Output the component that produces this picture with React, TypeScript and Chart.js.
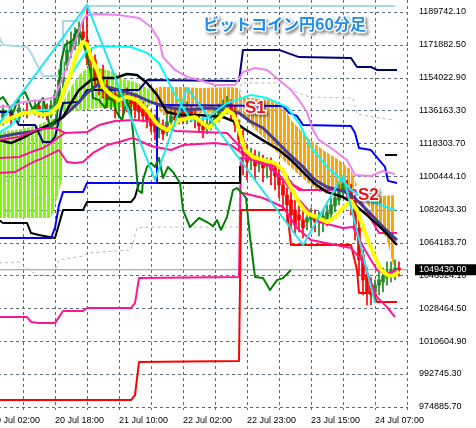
import React, { useEffect, useRef } from 'react';
import { Chart, registerables } from 'chart.js';
Chart.register(...registerables);

// x = hourly bar index (0 = 20 Jul 02:00), y = price (JPY)
const timeLabels: Record<number, string> = {
  0: '20 Jul 02:00', 16: '20 Jul 18:00', 32: '21 Jul 10:00', 48: '22 Jul 02:00',
  64: '22 Jul 23:00', 80: '23 Jul 15:00', 96: '24 Jul 07:00',
};
const gridBars = [0, 8, 16, 24, 32, 40, 48, 56, 64, 72, 80, 88, 96, 104];
const priceTicks = [1189742.1, 1171882.5, 1154022.9, 1136163.3, 1118303.7, 1100444.1, 1082043.3,
  1064183.7, 1046324.1, 1028464.5, 1010604.9, 992745.3, 974885.7];
const bidPrice = 1049430;
const titleText = 'ビットコイン円60分足';
const X_MIN = 0, X_MAX = 104.25, Y_MIN = 973083, Y_MAX = 1196275;

type P = [number, number | null];

const lightBlue: P[] = [[2,1176100],[3,1171800],[9,1170700],[10,1167400],[13,1154900],[18,1154900],[18,1184800],[22,1184800],[24,1193000],[101,1193000]];
const cyanZigzag: P[] = [[2,1128800],[24,1193600],[41,1098300],[49,1148400],[78,1062900],[88,1101000],[96,1031300]];
const cyanBand: P[] = [[2,1123900],[5,1128200],[7,1133100],[10,1136400],[15,1136400],[17,1138000],[20,1155400],[24,1169100],[27,1171200],[35,1170700],[39,1167400],[42,1162000],[46,1144600],[50,1130900],[54,1132000],[59,1140200],[65,1144600],[69,1142900],[74,1138000],[77,1129300],[80,1116200],[84,1105400],[88,1097800],[90,1092800],[94,1087400],[101,1081900]];
const violet: P[] = [[2,1138000],[5,1138600],[8,1140700],[13,1141800],[16,1143500],[19,1159800],[21,1173400],[23,1185400],[24,1188100],[27,1188700],[32,1188100],[37,1186500],[40,1181600],[42,1174500],[43,1165200],[46,1158200],[49,1154400],[52,1152700],[56,1150000],[61,1150000],[63,1157100],[66,1159300],[69,1158200],[72,1152700],[75,1147300],[77,1141800],[79,1135300],[80.5,1125500],[82,1120100],[85,1115700],[89,1109200],[91,1101000],[95,1100500],[98,1103200],[101,1101500]];
const navy: P[] = [[2,1135300],[5,1135300],[7,1128200],[11,1128200],[13,1119000],[15,1119000],[16,1121700],[18,1140200],[22,1140700],[24,1147300],[37,1147300],[39,1152700],[62,1152200],[63,1169100],[72,1169100],[77,1165200],[90,1164700],[91.5,1159800],[95,1159800],[96.5,1158200],[101.5,1158200]];
const blueStep: P[] = [[2,1066700],[15,1066700],[16,1072200],[17,1084700],[18,1091700],[23,1091700],[24,1096700],[41.5,1096700],[41.5,1139100],[73,1138600],[74.5,1134800],[76.5,1133100],[78,1128200],[90,1127700],[91,1123900],[92,1115700],[95,1114600],[97,1109200],[98.5,1105400],[99.25,1097800],[101.5,1096700]];
const blackStep: P[] = [[2,1076500],[3,1074900],[9,1074900],[10,1069400],[12,1068300],[16,1066700],[18,1081900],[23,1081900],[24,1086300],[35,1086300],[36,1089000],[37,1096700],[62,1096700],[62.25,1105900],[80,null],[98.5,1111900],[101.5,1111900]];
const redStep: P[] = [[2,978500],[35,978500],[36,981200],[37,999200],[62,999700],[62.5,1081900],[74,1081900],[75,1062900],[90,1062900],[91.5,1049300],[92,1036800],[95.5,1036800],[96.5,1031900],[101.5,1031900]];
const pinkStep: P[] = [[2,1023700],[9,1023700],[10,1021000],[12,1020400],[16,1020400],[18,1027000],[23,1027000],[24,1028600],[35,1028600],[36,1031300],[37,1044900],[62,1045500],[62.5,1110300],[67,1109200],[72,1106500],[75,1096700],[77,1092800],[91,1092800],[93,1084700],[97,1069400],[101.5,1069400]];
const pinkUpper: P[] = [[2,1120100],[7,1121700],[12,1126100],[16,1126600],[18.5,1123900],[24,1124400],[27,1128200],[31,1130400],[36,1130900],[41,1129900],[46,1125000],[59,1123900],[63,1114600],[68,1109200],[73,1098300],[77,1087400],[82,1075400],[88,1072200],[90.5,1072700],[93.5,1060200],[96.5,1049300],[99,1047100],[101.5,1049300]];
const pinkMid: P[] = [[2,1110300],[7,1110800],[10,1113500],[13,1115700],[15,1118400],[17,1121700],[18.5,1123900]];
const pinkLower: P[] = [[2,1102100],[6,1102600],[10,1107500],[13,1110300],[17,1114600],[19,1108100],[21,1107500],[23,1108100],[25.5,1113000],[29,1117300],[32,1119000],[35.5,1121200],[40,1116800],[45,1114600],[48,1117300],[56,1118400],[60,1117300],[64,1110800],[67,1107500],[72,1105400],[75.5,1095600],[78,1092800]];
const pinkLowest: P[] = [[63,1091200],[68,1088500],[73,1083600],[76.5,1072200],[80,1065600],[85,1063500],[90,1061300],[93,1053700],[96.5,1034600],[99,1029100],[101,1023700]];
const blackMA: P[] = [[2,1120100],[5,1118400],[8,1121200],[11,1124900],[15,1128800],[18,1132600],[20,1140200],[22,1147300],[25,1152700],[28,1153800],[31,1153800],[34,1156000],[36.5,1155400],[39,1151100],[41.5,1144600],[44,1135300],[47,1133700],[52,1133700],[58,1132600],[61,1129900],[63,1126600],[67,1121200],[72,1114600],[75,1109200],[78,1102600],[81,1096100],[84,1091700],[88,1089000],[91,1084700],[94,1079200],[98,1071100],[101.5,1062900]];
const slateMA: P[] = [[2,1121700],[6,1123300],[11,1124900],[15,1127700],[18,1132600],[22,1140700],[24,1145600],[26.5,1150000],[29,1148900],[32,1147300],[36,1144600],[40,1140700],[43,1138600],[48,1136400],[55,1137500],[62,1134800],[65,1129900],[68,1126600],[71,1120100],[74,1113500],[78,1105400],[81,1098300],[84,1094500],[88,1092300],[91,1088500],[94,1081900],[98,1072700],[101.5,1065600]];
const yellowMA: P[] = [[2,1128800],[5,1132000],[8,1134800],[11,1135300],[13,1133700],[15,1134800],[17,1139100],[18,1145600],[20,1156500],[21.5,1167400],[23,1173400],[24,1172300],[25,1165200],[26.5,1158200],[28,1148900],[30,1144600],[32,1141800],[34,1143500],[36.5,1141800],[39,1136400],[41.5,1128800],[44,1125500],[47,1130900],[51,1132600],[54.5,1126600],[57,1132000],[59,1136400],[60.5,1134200],[61.5,1129300],[62.5,1121700],[63.5,1114600],[65.5,1110800],[68,1109200],[71,1107500],[73,1103700],[74,1098300],[75.5,1092300],[77,1085800],[79,1080300],[81.5,1078100],[84,1075400],[86,1078100],[88,1083000],[90,1086900],[91.5,1081900],[93,1072700],[94.5,1064000],[96,1056400],[97.5,1049300],[99.5,1046000],[101,1046600],[102,1048700]];
const chikou: P[] = [[2,1141800],[3,1143500],[5.5,1134800],[7,1143500],[8.5,1146200],[10.5,1136400],[13,1142900],[14.75,1127100],[16.5,1132600],[17.5,1162500],[18.5,1171800],[20.5,1174500],[21.5,1180000],[22.5,1176100],[24,1166300],[25,1155400],[25.5,1142900],[27,1141800],[28.5,1137500],[29.25,1143500],[30.5,1141800],[31.5,1134800],[32.75,1130900],[34,1141800],[35,1134800],[35.5,1123900],[36,1111900],[36.75,1092800],[37.75,1091200],[38,1098300],[39,1105400],[40,1107500],[41,1105400],[42,1110300],[43,1099400],[44.25,1105400],[45.5,1102600],[47.25,1096700],[48,1081900],[49.75,1072700],[52,1077600],[54,1075400],[55.5,1073200],[56.5,1076500],[57.5,1071100],[59,1078100],[60.5,1092800],[61.5,1093900],[63,1090700],[63.75,1088500],[64.75,1067300],[66,1045500],[68,1044900],[69.75,1038400],[71.5,1043800],[73,1044900],[75,1049300]];
const grayUpper: P[] = [[2,1053100],[7,1053600],[9.5,1049300],[11.5,1046600],[15.5,1046000],[17,1054700],[23,1056900],[24,1058500],[35,1060200],[36.5,1072200],[42,1072700],[62,1072700],[62.5,1151100],[73,1151100],[75,1147300],[79.5,1143500],[90.5,1142900],[91.5,1134200],[95.5,1132600],[101,1130900]];
const grayLeft: P[] = [[2,1098300],[5.5,1097700],[9,1093900],[12,1088500],[17,1087400]];
const limeTop: P[] = [[2,1124400],[6,1125500],[10,1127100],[13,1129300],[16,1132000],[17.5,1138600],[20,1148900],[22,1155400],[24,1159300],[27,1159300],[29,1158200],[31,1157100],[32,1153800],[36,1151600],[40,1147300],[41,1142900]];
const limeBottom: P[] = [[2,1077600],[15,1077600],[15.5,1080300],[16.5,1088500],[17.75,1098300],[18,1135300],[23,1136400],[27,1137500],[32,1138000],[37,1138000],[40,1138600],[41,1142900]];
const orangeTop: P[] = [[40,1147300],[42,1148900],[48,1148900],[52,1148400],[60,1148900],[62,1148400],[62.5,1143500],[70,1141800],[73,1139100],[75,1130900],[79,1121700],[83,1114600],[87,1109200],[90,1103700],[91.5,1095600]];
const orangeBottom: P[] = [[40,1141800],[43,1133700],[52,1134800],[62,1134800],[63,1133100],[66,1125500],[69,1120100],[73,1109200],[77,1101000],[82,1091700],[90,1092800],[91.5,1095600]];
const orange2Top: P[] = [[94,1089000],[101,1090100]];
const orange2Bottom: P[] = [[94,1085800],[97,1073800],[99,1065600],[100.5,1052000],[101,1052000]];

// candles
const candleBar = [3,5,7,9,11,12,13,14,15,16,17,18,19,20,21,22,23,24,25,26,27,28,29,30,31,32,33,34,35,36,37,38,39,40,41,42,43,44,45,46,47,48,49,50,51,52,53,54,55,56,57,58,59,60,61,62,63,64,65,66,67,68,69,70,71,72,73,74,75,76,77,78,79,80,81,82,83,84,85,86,87,88,89,90,91,92,93,94,95,96,97,98,99,100,101,102];
const candleOpen = [1132100,1135300,1132100,1136400,1135300,1138600,1135300,1136400,1133700,1137500,1144000,1151700,1160900,1168000,1172300,1176700,1178900,1174500,1164700,1163600,1153800,1150000,1146200,1141900,1145100,1142900,1144000,1144600,1142900,1141900,1139100,1137500,1135300,1132100,1129900,1125500,1126600,1124400,1129900,1133100,1132100,1135300,1132100,1136400,1133700,1131000,1127700,1126600,1128800,1131000,1133100,1136400,1138600,1139700,1135300,1128200,1120100,1113600,1109200,1110300,1107000,1109200,1105900,1107000,1104800,1101000,1095600,1090100,1087400,1082000,1079300,1076500,1075400,1076500,1077600,1075400,1076500,1076500,1079800,1084200,1087400,1091800,1095000,1092900,1087400,1072200,1057500,1046600,1041100,1037300,1041100,1042800,1045000,1047100,1048200,1050400];
const candleHigh = [1139100,1137500,1141900,1140200,1141900,1141300,1140800,1139700,1141900,1147300,1158200,1166400,1174500,1178900,1181100,1184300,1185400,1191900,1169100,1166400,1158200,1160900,1152700,1148400,1147300,1147300,1146200,1148400,1146200,1144600,1141900,1140800,1138600,1136400,1133700,1132100,1131000,1135300,1137500,1136400,1139100,1139700,1140800,1138600,1136400,1134200,1132100,1132100,1134200,1137500,1139700,1141900,1144000,1141900,1138600,1131000,1125500,1117400,1115700,1114600,1113600,1111900,1110300,1110300,1108100,1104800,1099400,1094000,1091800,1087400,1084700,1082000,1080900,1083100,1082000,1080900,1082000,1084700,1088500,1092900,1096100,1099400,1098300,1096100,1090100,1076500,1060200,1050400,1045000,1043900,1049300,1050400,1053700,1053700,1054800,1053700];
const candleLow = [1128200,1127700,1129900,1132100,1133700,1132600,1132100,1131000,1132100,1135300,1141900,1148400,1158200,1164700,1169100,1171800,1171800,1160900,1155500,1150000,1144600,1142900,1137500,1136400,1132100,1132100,1133700,1135300,1133700,1132100,1131000,1129900,1126600,1124400,1120100,1121200,1120100,1122300,1126600,1127700,1128800,1128800,1128800,1129900,1126600,1124400,1121200,1123400,1125500,1127700,1129900,1132100,1134200,1131000,1124400,1114600,1101000,1098300,1103800,1098300,1102700,1097200,1099400,1095600,1092900,1088500,1082000,1075400,1072200,1068400,1070000,1066700,1071100,1072200,1070000,1067800,1070000,1073300,1077600,1080900,1084700,1088500,1087400,1079300,1065600,1046600,1035700,1030300,1030300,1033000,1035700,1037300,1041100,1042800,1043900,1046000];
const candleClose = [1136400,1131000,1137500,1134200,1138600,1135300,1136400,1133100,1139100,1144600,1152700,1162500,1169100,1173400,1177800,1180000,1175600,1164700,1162500,1152700,1150000,1146200,1141900,1146200,1141900,1144600,1140800,1141900,1139700,1136400,1135300,1133100,1131000,1127700,1124400,1128200,1123400,1129900,1133100,1131000,1135300,1132100,1136400,1133100,1131000,1127700,1125500,1128800,1131000,1133700,1136400,1138600,1139700,1135300,1128200,1120100,1111900,1108100,1111400,1105900,1109200,1104800,1107000,1103800,1100500,1095600,1090100,1084700,1079300,1073800,1076500,1072200,1077600,1079300,1075400,1077600,1078700,1080900,1084700,1088500,1092900,1096100,1091800,1084700,1071100,1054800,1043900,1037300,1035700,1041100,1043900,1046000,1048200,1049300,1050400,1049430];

const toXY = (pts: P[]) => pts.map(([x, y]) => ({ x, y }));
const NONE = 'rgba(0,0,0,0)';
const GRID = '#5f6a78';

function line(label: string, pts: P[], color: string, width: number, order: number, extra: any = {}) {
  return {
    type: 'line', label, data: toXY(pts), borderColor: color, borderWidth: width,
    pointRadius: 0, tension: 0, fill: false, order, borderJoinStyle: 'round', spanGaps: false, ...extra,
  };
}

// dashed grid built from 3px dash rectangles at each axis tick, under the series
const gridPlugin = {
  id: 'rectGrid',
  beforeDatasetsDraw(chart: any) {
    const { ctx, chartArea, scales } = chart;
    const { left, right, top, bottom } = chartArea;
    ctx.save();
    ctx.globalAlpha = 1;
    ctx.globalCompositeOperation = 'source-over';
    ctx.fillStyle = GRID;
    for (const v of gridBars) {
      const px = Math.round(scales.x.getPixelForValue(v));
      if (px < left || px > right) continue;
      for (let y = top; y < bottom; y += 6) ctx.fillRect(px, y, 1, Math.min(3, bottom - y));
    }
    for (const v of priceTicks) {
      const py = Math.round(scales.y.getPixelForValue(v));
      for (let x = left + 1; x < right; x += 6) ctx.fillRect(x, py, Math.min(3, right - x), 1);
    }
    ctx.restore();
  },
};

const overlayPlugin = {
  id: 'overlay',
  afterDraw(chart: any) {
    const { ctx, chartArea, scales } = chart;
    const xs = scales.x, ys = scales.y;
    ctx.save();
    const by = ys.getPixelForValue(bidPrice);
    ctx.fillStyle = '#000';
    ctx.fillRect(chartArea.right + 7, by - 5.5, chart.width - chartArea.right - 7, 11);
    ctx.fillStyle = '#fff';
    ctx.font = '9px "Liberation Sans"';
    ctx.textAlign = 'left';
    ctx.textBaseline = 'middle';
    ctx.fillText(bidPrice.toFixed(2), chartArea.right + 11, by);

    const fancy = (text: string, x: number, y: number, font: string, color: string) => {
      ctx.font = font;
      ctx.textAlign = 'left';
      ctx.textBaseline = 'middle';
      ctx.shadowColor = 'rgba(0,0,0,0.45)';
      ctx.shadowBlur = 3;
      ctx.shadowOffsetX = 2;
      ctx.shadowOffsetY = 2;
      ctx.lineJoin = 'round';
      ctx.strokeStyle = '#fff';
      ctx.lineWidth = 3;
      ctx.strokeText(text, x, y);
      ctx.shadowColor = 'rgba(0,0,0,0)';
      ctx.fillStyle = color;
      ctx.fillText(text, x, y);
    };
    fancy(titleText, chartArea.left + 212, 24, 'bold 16px "Noto Sans CJK JP"', '#1e8cf0');
    fancy('S1', xs.getPixelForValue(63.5), ys.getPixelForValue(1137500), 'bold 17px "Liberation Sans"', '#e8121c');
    fancy('S2', xs.getPixelForValue(91.75), ys.getPixelForValue(1090100), 'bold 17px "Liberation Sans"', '#e8121c');
    ctx.restore();
  },
};

export default function App() {
  const ref = useRef<HTMLCanvasElement>(null);
  useEffect(() => {
    document.body.style.margin = '0';
    document.body.style.overflow = 'hidden';
    const canvas = ref.current!;
    const ctx = canvas.getContext('2d')!;
    const stripe = (color: string) => {
      const pc = document.createElement('canvas');
      pc.width = 4; pc.height = 1;
      const p = pc.getContext('2d')!;
      p.fillStyle = color;
      p.fillRect(0, 0, 3, 1);
      return ctx.createPattern(pc, 'repeat');
    };
    const lime = stripe('#7CFC00');
    const orange = stripe('#FFA500');

    const bodyColors = candleOpen.map((o, k) => (candleClose[k] >= o ? '#1f8a1f' : '#ff0000'));
    const datasets: any[] = [
      line('limeTop', limeTop, NONE, 1, 40),
      line('limeBottom', limeBottom, NONE, 1, 40, { fill: '-1', backgroundColor: lime }),
      line('orangeTop', orangeTop, NONE, 1, 40),
      line('orangeBottom', orangeBottom, NONE, 1, 40, { fill: '-1', backgroundColor: orange }),
      line('orange2Top', orange2Top, NONE, 1, 40),
      line('orange2Bottom', orange2Bottom, NONE, 1, 40, { fill: '-1', backgroundColor: orange }),
      line('bid', [[X_MIN, bidPrice], [X_MAX, bidPrice]], '#8a96a3', 1, 35),
      {
        type: 'bar', label: 'wick', order: 21, grouped: false, barThickness: 1,
        data: candleBar.map((b, k) => ({ x: b, y: [candleLow[k], candleHigh[k]] })),
        backgroundColor: bodyColors,
      },
      {
        type: 'bar', label: 'body', order: 20, grouped: false, barThickness: 3,
        data: candleBar.map((b, k) => ({ x: b, y: [Math.min(candleOpen[k], candleClose[k]), Math.max(candleOpen[k], candleClose[k])] })),
        backgroundColor: bodyColors,
      },
      line('grayUpper', grayUpper, '#b8b8b8', 1, 15, { borderDash: [3, 3] }),
      line('grayLeft', grayLeft, '#b8b8b8', 1, 15, { borderDash: [3, 3] }),
      line('lightBlue', lightBlue, '#ADD8E6', 2, 14),
      line('redStep', redStep, '#FF0000', 2, 13),
      line('pinkStep', pinkStep, '#FF1493', 2, 13),
      line('blackStep', blackStep, '#000000', 2, 12),
      line('blueStep', blueStep, '#0000FF', 2, 11),
      line('navy', navy, '#000080', 2, 10),
      line('slate', slateMA, '#483D8B', 3, 9),
      line('blackMA', blackMA, '#000000', 2.5, 8),
      line('chikou', chikou, '#008000', 2, 7),
      line('pinkUpper', pinkUpper, '#FF1493', 2, 6),
      line('pinkMid', pinkMid, '#FF1493', 2, 6),
      line('pinkLower', pinkLower, '#FF1493', 2, 6),
      line('pinkLowest', pinkLowest, '#FF1493', 2, 6),
      line('violet', violet, '#EE82EE', 2, 5),
      line('cyanBand', cyanBand, '#00FFFF', 2, 4),
      line('yellow', yellowMA, '#FFFF00', 4, 3),
      line('cyanZigzag', cyanZigzag, '#1fe6f0', 2, 2),
    ];

    const tickFont = { family: 'Liberation Sans', size: 9 };
    const chart = new Chart(ctx, {
      type: 'line',
      data: { datasets },
      options: {
        animation: false,
        responsive: false,
        devicePixelRatio: 1,
        events: [],
        layout: { padding: 0 },
        plugins: { legend: { display: false }, tooltip: { enabled: false } },
        scales: {
          x: {
            type: 'linear', min: X_MIN, max: X_MAX, offset: false,
            afterBuildTicks: (s: any) => { s.ticks = gridBars.map((v) => ({ value: v })); },
            afterFit: (s: any) => { s.height = 18; s.paddingLeft = 0; s.paddingRight = 0; },
            grid: { display: false, drawTicks: false, offset: false },
            border: { display: false },
            ticks: {
              align: 'start', padding: 5, maxRotation: 0, minRotation: 0, autoSkip: false,
              color: '#000', font: tickFont,
              callback: (v: any) => timeLabels[v as number] ?? '',
            },
          },
          y: {
            type: 'linear', position: 'right', min: Y_MIN, max: Y_MAX, beginAtZero: false,
            afterBuildTicks: (s: any) => { s.ticks = priceTicks.map((v) => ({ value: v })); },
            afterFit: (s: any) => { s.width = 68; s.paddingTop = 0; s.paddingBottom = 0; },
            grid: { display: false, drawTicks: false },
            border: { display: false },
            ticks: {
              padding: 11, autoSkip: false, color: '#000', font: tickFont,
              callback: (v: any) => Number(v).toFixed(2),
            },
          },
        },
      } as any,
      plugins: [gridPlugin, overlayPlugin],
    });
    return () => chart.destroy();
  }, []);
  return (
    <div style={{ position: 'absolute', left: -9, top: 0, width: 485, height: 428 }}>
      <canvas ref={ref} width={485} height={428} style={{ display: 'block', width: 485, height: 428 }} />
    </div>
  );
}
